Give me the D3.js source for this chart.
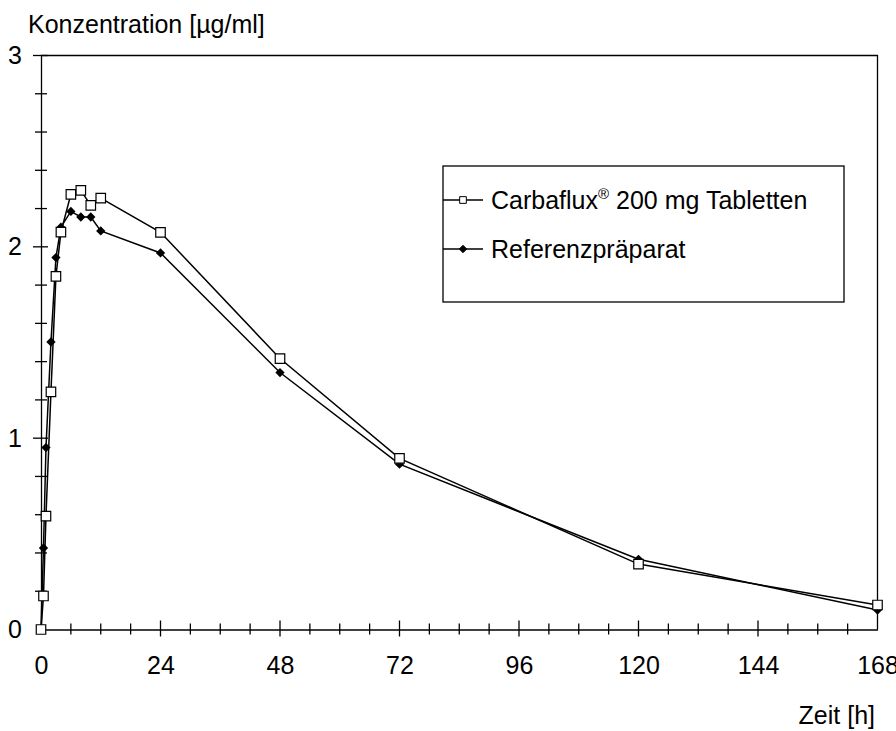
<!DOCTYPE html>
<html lang="de">
<head>
  <meta charset="UTF-8">
  <title>Konzentration</title>
  <style>
    html, body { margin: 0; padding: 0; background: #fff; }
    svg { display: block; font-family: "Liberation Sans", Arial, sans-serif; }
  </style>
</head>
<body>
  <svg id="chart" width="896" height="731"></svg>

  <script src="https://d3js.org/d3.v7.min.js"></script>
  <script>
    // Zeitpunkte [h] und Konzentrationen [µg/ml]
    const times = [0, 0.5, 1, 2, 3, 4, 6, 8, 10, 12, 24, 48, 72, 120, 168];
    const carbaflux = [0, 0.175, 0.593, 1.242, 1.846, 2.077, 2.274, 2.295, 2.217, 2.255, 2.076, 1.416, 0.894, 0.342, 0.128];
    const referenz = [0, 0.426, 0.951, 1.503, 1.944, 2.103, 2.185, 2.156, 2.156, 2.083, 1.968, 1.343, 0.864, 0.367, 0.102];
    const xTickLabels = [0, 24, 48, 72, 96, 120, 144, 168];
    const yTickLabels = [0, 1, 2, 3];
    const seriesNames = ["Carbaflux", "Referenzpräparat"];

    const FONT_SIZE = 25;
    const FONT = "Liberation Sans, Arial, sans-serif";
    const svg = d3.select("#chart");

    const x = d3.scaleLinear().domain([0, 168]).range([41, 877.5]);
    const y = d3.scaleLinear().domain([0, 3]).range([629.5, 55.5]);

    // Rahmen (oben / rechts)
    svg.append("path")
      .attr("d", `M${x(0)},${y(3)}H${x(168)}V${y(0)}`)
      .attr("fill", "none").attr("stroke", "#000").attr("stroke-width", 1.3);

    // X-Achse
    const xAxis = svg.append("g")
      .attr("transform", `translate(0,${y(0)})`)
      .call(d3.axisBottom(x).tickValues(xTickLabels).tickSize(0).tickPadding(27));
    xAxis.select(".domain").attr("stroke", "#000").attr("stroke-width", 1.3);
    xAxis.selectAll("text").attr("font-size", FONT_SIZE).attr("font-family", FONT).attr("fill", "#000");

    const xMinor = d3.range(6, 168, 6);
    svg.append("g").selectAll("line")
      .data(xMinor)
      .join("line")
      .attr("x1", d => x(d)).attr("x2", d => x(d))
      .attr("y1", d => y(0) - (d % 24 === 0 ? 9 : 6))
      .attr("y2", d => y(0) + (d % 24 === 0 ? 7 : 5))
      .attr("stroke", "#000").attr("stroke-width", 1.3);

    // Y-Achse
    const yAxis = svg.append("g")
      .attr("transform", `translate(${x(0)},0)`)
      .call(d3.axisLeft(y).tickValues(yTickLabels).tickFormat(d3.format("d")).tickSize(0).tickPadding(19));
    yAxis.select(".domain").attr("stroke", "#000").attr("stroke-width", 1.3);
    yAxis.selectAll("text").attr("font-size", FONT_SIZE).attr("font-family", FONT).attr("fill", "#000");

    const yMinor = d3.range(0.2, 3.01, 0.2);
    svg.append("g").selectAll("line")
      .data(yMinor)
      .join("line")
      .attr("x1", d => x(0) - (Math.abs(d - Math.round(d)) < 0.01 ? 8 : 6))
      .attr("x2", d => x(0) + (Math.abs(d - Math.round(d)) < 0.01 ? 7 : 6))
      .attr("y1", d => y(d)).attr("y2", d => y(d))
      .attr("stroke", "#000").attr("stroke-width", 1.3);

    // Achsentitel
    svg.append("text")
      .attr("x", 28).attr("y", 33)
      .attr("font-size", FONT_SIZE)
      .text("Konzentration [µg/ml]");
    svg.append("text")
      .attr("x", 875).attr("y", 724)
      .attr("text-anchor", "end")
      .attr("font-size", FONT_SIZE)
      .text("Zeit [h]");

    const line = d3.line().x((d, i) => x(times[i])).y(d => y(d));
    const diamond = d3.symbol().type(d3.symbolDiamond2);
    const square = d3.symbol().type(d3.symbolSquare);

    // Referenzpräparat
    svg.append("path").datum(referenz)
      .attr("d", line).attr("fill", "none").attr("stroke", "#000").attr("stroke-width", 1.5);
    // Carbaflux
    svg.append("path").datum(carbaflux)
      .attr("d", line).attr("fill", "none").attr("stroke", "#000").attr("stroke-width", 1.5);

    svg.append("g").selectAll("path")
      .data(referenz)
      .join("path")
      .attr("transform", (d, i) => `translate(${x(times[i])},${y(d)})`)
      .attr("d", diamond.size(55))
      .attr("fill", "#000");

    svg.append("g").selectAll("path")
      .data(carbaflux)
      .join("path")
      .attr("transform", (d, i) => `translate(${x(times[i])},${y(d)})`)
      .attr("d", square.size(90))
      .attr("fill", "#fff").attr("stroke", "#000").attr("stroke-width", 1.2);

    // Legende
    const legend = svg.append("g");
    legend.append("rect")
      .attr("x", 443).attr("y", 166).attr("width", 401).attr("height", 136)
      .attr("fill", "#fff").attr("stroke", "#000").attr("stroke-width", 1.3);

    const legendRows = [
      { name: seriesNames[0], y: 200, sym: square.size(45), fill: "#fff" },
      { name: seriesNames[1], y: 249, sym: diamond.size(35), fill: "#000" }
    ];
    legendRows.forEach(r => {
      legend.append("line")
        .attr("x1", 443).attr("x2", 483).attr("y1", r.y).attr("y2", r.y)
        .attr("stroke", "#000").attr("stroke-width", 1.5);
      legend.append("path")
        .attr("transform", `translate(463,${r.y})`)
        .attr("d", r.sym)
        .attr("fill", r.fill).attr("stroke", "#000").attr("stroke-width", 1);
    });

    const t1 = legend.append("text")
      .attr("x", 491).attr("y", legendRows[0].y + 9)
      .attr("font-size", FONT_SIZE);
    t1.append("tspan").text("Carbaflux");
    t1.append("tspan").attr("font-size", 15).attr("dy", -10).text("®");
    t1.append("tspan").attr("dy", 10).text(" 200 mg Tabletten");

    legend.append("text")
      .attr("x", 491).attr("y", legendRows[1].y + 9)
      .attr("font-size", FONT_SIZE)
      .text(seriesNames[1]);
  </script>
</body>
</html>
